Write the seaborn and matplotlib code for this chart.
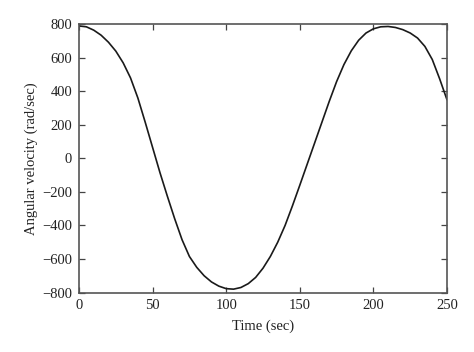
import numpy as np
import pandas as pd
import matplotlib
matplotlib.use("Agg")
import matplotlib.pyplot as plt
import seaborn as sns

# values, every 5 s
time_sec = list(range(0, 251, 5))
ang_vel = [790, 785, 765, 735, 693, 640, 570, 480, 360, 215,
           65, -85, -225, -360, -485, -585, -650, -700, -737, -762,
           -777, -780, -770, -747, -710, -655, -585, -500, -400, -283,
           -160, -35, 90, 215, 340, 458, 560, 642, 705, 748,
           773, 785, 787, 781, 768, 748, 718, 668, 590, 475, 350]

x_ticks = [0, 50, 100, 150, 200, 250]
y_ticks = [-800, -600, -400, -200, 0, 200, 400, 600, 800]

df = pd.DataFrame({"Time (sec)": time_sec, "Angular velocity (rad/sec)": ang_vel})

sns.set_style("ticks")
plt.rcParams["font.family"] = ["Liberation Serif", "DejaVu Serif"]

fig = plt.figure(figsize=(4.74, 3.52), dpi=100)
ax = fig.add_axes([0.1667, 0.169, 0.7763, 0.762])

sns.lineplot(data=df, x="Time (sec)", y="Angular velocity (rad/sec)", ax=ax,
             color="#1a1a1a", linewidth=1.2)

ax.set_xlim(0, 250)
ax.set_ylim(-800, 800)
ax.set_xticks(x_ticks)
ax.set_yticks(y_ticks)
ax.set_yticklabels([str(v).replace("-", "\u2212") for v in y_ticks])
ax.tick_params(direction="in", top=True, right=True, length=4, width=0.9,
               color="#444444", labelsize=10.5, labelcolor="#222222", pad=5)
for sp in ax.spines.values():
    sp.set_color("#555555")
    sp.set_linewidth(1.2)
ax.set_xlabel("Time (sec)", fontsize=10.5, color="#222222", labelpad=5)
ax.set_ylabel("Angular velocity (rad/sec)", fontsize=10.5, color="#222222", labelpad=3)

fig.savefig("out.png", dpi=100)
